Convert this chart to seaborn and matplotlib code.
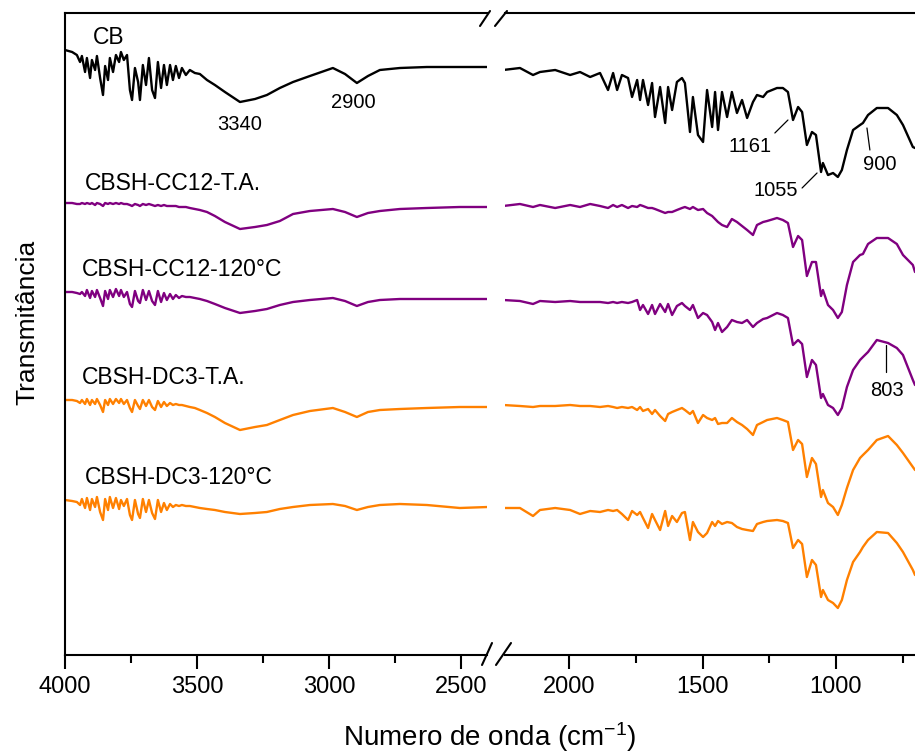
import pandas as pd
import matplotlib
matplotlib.use("Agg")
import matplotlib.pyplot as plt
from matplotlib.lines import Line2D
from matplotlib.ticker import MultipleLocator
import seaborn as sns

# FTIR spectra, stacked (transmittance in arbitrary offset units)
samples = ["CB", "CBSH-CC12-T.A.", "CBSH-CC12-120°C", "CBSH-DC3-T.A.", "CBSH-DC3-120°C"]
line_colors = ["#000000", "#800080", "#800080", "#FF8000", "#FF8000"]

# high wavenumber segment (4000 - 2400 cm-1)
wn_high = [4000, 3973, 3955, 3943, 3936, 3924, 3917, 3905, 3898, 3886,
           3879, 3867, 3856, 3848, 3837, 3830, 3818, 3807, 3795, 3788,
           3777, 3765, 3754, 3746, 3735, 3723, 3716, 3705, 3693, 3682,
           3670, 3659, 3648, 3636, 3625, 3614, 3602, 3591, 3580, 3568,
           3557, 3542, 3527, 3508, 3489, 3462, 3432, 3394, 3337, 3280,
           3235, 3186, 3136, 3072, 2985, 2939, 2894, 2852, 2807, 2731,
           2629, 2504, 2398]
cb_high = [605, 603, 600, 593, 599, 583, 597, 577, 595, 585,
           599, 577, 560, 589, 575, 597, 583, 600, 593, 603,
           595, 600, 565, 555, 587, 573, 555, 590, 570, 597,
           565, 557, 593, 567, 590, 570, 590, 575, 589, 577,
           587, 580, 585, 582, 581, 575, 570, 563, 553, 556,
           560, 567, 573, 579, 587, 581, 572, 579, 585, 587,
           588, 588, 588]
cc12_ta_high = [452, 452, 451, 451, 452, 451, 452, 451, 452, 450,
                452, 451, 449, 452, 451, 452, 451, 452, 451, 452,
                451, 451, 450, 449, 451, 450, 449, 451, 450, 451,
                450, 449, 450, 449, 450, 449, 449, 449, 449, 448,
                448, 448, 447, 446, 445, 443, 439, 433, 426, 428,
                430, 434, 441, 444, 446, 443, 438, 442, 444, 446,
                447, 448, 448]
cc12_120_high = [363, 363, 362, 361, 363, 359, 365, 357, 364, 358,
                 365, 357, 349, 364, 356, 365, 358, 366, 359, 365,
                 358, 363, 351, 348, 364, 354, 352, 365, 355, 364,
                 354, 350, 364, 353, 362, 355, 361, 356, 360, 357,
                 359, 358, 358, 357, 356, 354, 351, 347, 342, 344,
                 346, 350, 353, 355, 357, 354, 349, 353, 355, 356,
                 356, 356, 356]
dc3_ta_high = [255, 255, 254, 252, 255, 251, 256, 250, 255, 251,
               256, 250, 243, 255, 250, 256, 251, 256, 252, 256,
               251, 255, 247, 243, 255, 249, 246, 255, 249, 255,
               248, 245, 254, 248, 253, 249, 252, 250, 251, 250,
               250, 249, 248, 247, 245, 242, 238, 232, 225, 228,
               230, 235, 240, 244, 247, 243, 238, 243, 245, 246,
               247, 248, 248]
dc3_120_high = [155, 154, 153, 150, 156, 147, 157, 145, 156, 148,
                158, 143, 135, 156, 145, 158, 147, 157, 146, 155,
                149, 156, 140, 135, 155, 141, 137, 156, 143, 155,
                142, 136, 155, 143, 152, 145, 151, 148, 150, 149,
                150, 149, 149, 148, 147, 146, 145, 143, 141, 142,
                143, 146, 148, 150, 151, 149, 145, 148, 150, 151,
                150, 147, 148]

# low wavenumber segment (2250 - 700 cm-1)
wn_low = [2247, 2184, 2135, 2109, 2052, 1996, 1959, 1921, 1884, 1854,
          1835, 1820, 1802, 1779, 1764, 1745, 1734, 1723, 1704, 1689,
          1678, 1659, 1640, 1629, 1614, 1596, 1577, 1566, 1547, 1536,
          1517, 1498, 1483, 1464, 1453, 1442, 1427, 1408, 1390, 1371,
          1352, 1333, 1311, 1296, 1273, 1258, 1221, 1199, 1180, 1161,
          1142, 1127, 1109, 1090, 1075, 1056, 1049, 1030, 1011, 993,
          978, 959, 936, 910, 899, 880, 847, 805, 772, 749,
          712, 704]
cb_low = [585, 587, 580, 583, 585, 580, 583, 578, 582, 565,
          582, 565, 580, 577, 558, 575, 555, 575, 550, 572,
          538, 568, 532, 568, 545, 573, 577, 572, 523, 558,
          520, 513, 565, 528, 563, 525, 563, 538, 563, 542,
          555, 537, 553, 560, 558, 563, 567, 567, 563, 535,
          548, 543, 510, 523, 520, 483, 492, 480, 482, 478,
          485, 505, 525, 530, 532, 540, 547, 547, 540, 530,
          508, 507]
cc12_ta_low = [449, 451, 448, 450, 447, 450, 448, 451, 449, 447,
               450, 448, 450, 447, 449, 448, 450, 449, 447, 447,
               446, 444, 442, 443, 443, 445, 447, 448, 446, 448,
               445, 446, 442, 439, 436, 433, 430, 428, 436, 433,
               429, 425, 420, 430, 433, 434, 437, 435, 432, 408,
               419, 415, 379, 393, 393, 359, 365, 350, 345, 337,
               343, 370, 393, 400, 401, 411, 417, 417, 411, 400,
               390, 383]
cc12_120_low = [355, 354, 351, 354, 353, 354, 353, 353, 353, 352,
                353, 352, 353, 352, 353, 355, 345, 350, 341, 350,
                341, 351, 343, 351, 340, 349, 352, 349, 345, 350,
                337, 342, 340, 333, 325, 332, 323, 328, 335, 333,
                332, 335, 328, 332, 336, 337, 342, 340, 337, 310,
                315, 311, 278, 295, 290, 257, 261, 250, 247, 240,
                247, 268, 285, 295, 298, 303, 315, 312, 307, 300,
                275, 270]
dc3_ta_low = [250, 249, 248, 249, 249, 250, 249, 249, 248, 249,
              248, 247, 248, 247, 248, 245, 248, 244, 246, 241,
              245, 239, 234, 241, 243, 245, 247, 245, 241, 244,
              232, 240, 237, 235, 237, 231, 232, 232, 237, 233,
              230, 226, 220, 230, 233, 235, 237, 235, 233, 205,
              215, 211, 178, 197, 191, 158, 165, 152, 148, 140,
              150, 167, 185, 197, 200, 205, 215, 219, 210, 202,
              188, 185]
dc3_120_low = [147, 147, 139, 145, 147, 145, 141, 144, 143, 145,
               144, 145, 141, 135, 144, 140, 143, 137, 127, 141,
               135, 125, 144, 129, 139, 133, 142, 143, 115, 133,
               123, 118, 122, 133, 129, 134, 131, 133, 132, 128,
               126, 125, 124, 131, 133, 134, 135, 134, 132, 107,
               115, 111, 78, 95, 90, 58, 65, 55, 52, 47,
               55, 75, 93, 103, 108, 115, 123, 122, 112, 103,
               85, 80]

high_series = [cb_high, cc12_ta_high, cc12_120_high, dc3_ta_high, dc3_120_high]
low_series = [cb_low, cc12_ta_low, cc12_120_low, dc3_ta_low, dc3_120_low]


def long_frame(wn, series):
    parts = [pd.DataFrame({"wn": wn, "T": vals, "sample": name})
             for name, vals in zip(samples, series)]
    return pd.concat(parts, ignore_index=True)


df_high = long_frame(wn_high, high_series)
df_low = long_frame(wn_low, low_series)

sns.set_style("ticks", {"axes.edgecolor": "black", "text.color": "black",
                        "xtick.color": "black", "ytick.color": "black",
                        "axes.labelcolor": "black"})
plt.rcParams["font.family"] = ["Liberation Sans", "DejaVu Sans"]
plt.rcParams["mathtext.fontset"] = "custom"
plt.rcParams["mathtext.rm"] = "Liberation Sans"
plt.rcParams["mathtext.default"] = "regular"

W, H = 915, 753
fig = plt.figure(figsize=(W / 100, H / 100), dpi=100)
bottom = (H - 655) / H
height = (655 - 13) / H
ax1 = fig.add_axes([65 / W, bottom, (487 - 65) / W, height])
ax2 = fig.add_axes([505 / W, bottom, (915 - 505) / W, height])

palette = dict(zip(samples, line_colors))
for ax, df in [(ax1, df_high), (ax2, df_low)]:
    sns.lineplot(data=df, x="wn", y="T", hue="sample", palette=palette,
                 sort=False, estimator=None, legend=False, linewidth=1.7, ax=ax)
    ax.set_ylim(0, 642)
    ax.set_yticks([])
    ax.set_xlabel("")
    ax.set_ylabel("")
    ax.xaxis.set_major_locator(MultipleLocator(500))
    ax.xaxis.set_minor_locator(MultipleLocator(250))
    ax.tick_params(axis="x", which="major", direction="out", length=10, width=1.5,
                   labelsize=17, pad=5, top=False, colors="black")
    ax.tick_params(axis="x", which="minor", direction="out", length=6, width=1.5,
                   top=False, colors="black")
    for s in ax.spines.values():
        s.set_linewidth(1.5)
        s.set_color("black")
        s.set_visible(True)
    ax.patch.set_alpha(0)

ax1.set_xlim(4000, 2401)
ax2.set_xlim(2240, 704)
ax1.spines["right"].set_visible(False)
ax2.spines["left"].set_visible(False)
ax2.spines["right"].set_visible(False)
ax2.tick_params(axis="y", left=False)

# sample labels
lab_fs = 16.5
ax1.text(3894, 618, "CB", fontsize=lab_fs, ha="left", va="center", color="black")
ax1.text(3924, 472, "CBSH-CC12-T.A.", fontsize=lab_fs, ha="left", va="center", color="black")
ax1.text(3936, 385, "CBSH-CC12-120°C", fontsize=lab_fs, ha="left", va="center", color="black")
ax1.text(3936, 277, "CBSH-DC3-T.A.", fontsize=lab_fs, ha="left", va="center", color="black")
ax1.text(3924, 177, "CBSH-DC3-120°C", fontsize=lab_fs, ha="left", va="center", color="black")

# band labels
num_fs = 14.5
ax1.text(3337, 531, "3340", fontsize=num_fs, ha="center", va="center", color="black")
ax1.text(2909, 552, "2900", fontsize=num_fs, ha="center", va="center", color="black")
ax2.text(1322, 509, "1161", fontsize=num_fs, ha="center", va="center", color="black")
ax2.plot([1229, 1180], [522, 535], color="black", lw=0.9)
ax2.text(1225, 465, "1055", fontsize=num_fs, ha="center", va="center", color="black")
ax2.plot([1127, 1071], [467, 482], color="black", lw=0.9)
ax2.text(835, 491, "900", fontsize=num_fs, ha="center", va="center", color="black")
ax2.plot([884, 873], [527, 505], color="black", lw=0.9)
ax2.text(809, 265, "803", fontsize=num_fs, ha="center", va="center", color="black")
ax2.plot([813, 813], [310, 283], color="black", lw=0.9)


# axis break marks
def fpt(x, y):
    return x / W, 1 - y / H


for (x0, y0), (x1, y1) in [((480, 26), (490, 11)), ((495, 26), (507, 11)),
                           ((482, 665), (492, 643)), ((496, 665), (511, 643))]:
    a, b = fpt(x0, y0)
    c, d = fpt(x1, y1)
    fig.add_artist(Line2D([a, c], [b, d], transform=fig.transFigure, color="black", lw=1.5))

fig.text(490 / W, 1 - 737 / H, "Numero de onda (cm$^{-1}$)", fontsize=20,
         ha="center", va="center", color="black")
fig.text(27 / W, 1 - 322 / H, "Transmitância", fontsize=19, rotation=90,
         ha="center", va="center", color="black")

fig.savefig("out.png", dpi=100)
